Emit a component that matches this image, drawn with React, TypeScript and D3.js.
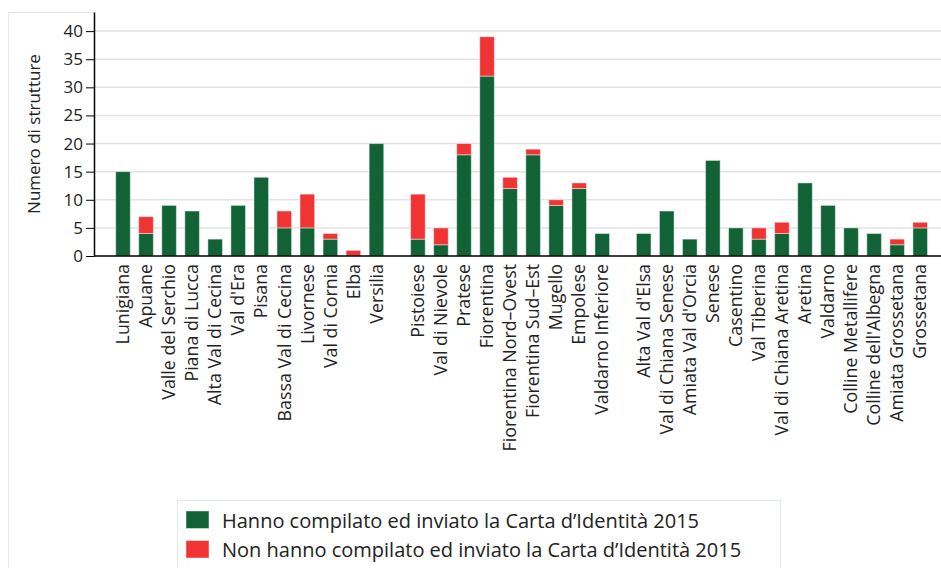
import React, { useEffect, useRef } from "react";
import * as d3 from "d3";

// zone names, grouped as in the original (gap between the three groups)
const group1 = ["Lunigiana", "Apuane", "Valle del Serchio", "Piana di Lucca", "Alta Val di Cecina", "Val d'Era", "Pisana", "Bassa Val di Cecina", "Livornese", "Val di Cornia", "Elba", "Versilia"];
const group2 = ["Pistoiese", "Val di Nievole", "Pratese", "Fiorentina", "Fiorentina Nord–Ovest", "Fiorentina Sud–Est", "Mugello", "Empolese", "Valdarno Inferiore"];
const group3 = ["Alta Val d'Elsa", "Val di Chiana Senese", "Amiata Val d'Orcia", "Senese", "Casentino", "Val Tiberina", "Val di Chiana Aretina", "Aretina", "Valdarno", "Colline Metallifere", "Colline dell'Albegna", "Amiata Grossetana", "Grossetana"];

// compiled / not compiled
const compiled1 = [15, 4, 9, 8, 3, 9, 14, 5, 5, 3, 0, 20];
const missing1 = [0, 3, 0, 0, 0, 0, 0, 3, 6, 1, 1, 0];
const compiled2 = [3, 2, 18, 32, 12, 18, 9, 12, 4];
const missing2 = [8, 3, 2, 7, 2, 1, 1, 1, 0];
const compiled3 = [4, 8, 3, 17, 5, 3, 4, 13, 9, 5, 4, 2, 5];
const missing3 = [0, 0, 0, 0, 0, 2, 2, 0, 0, 0, 0, 1, 1];

const yTicks = [0, 5, 10, 15, 20, 25, 30, 35, 40];
const seriesNames = ["Hanno compilato ed inviato la Carta d’Identità 2015", "Non hanno compilato ed inviato la Carta d’Identità 2015"];
const colors = ["#116336", "#f03333"];

const FONT = "'Open Sans', sans-serif";

const App = () => {
  const ref = useRef<SVGSVGElement | null>(null);

  useEffect(() => {
    const W = 941, H = 568;
    const svg = d3.select(ref.current);
    svg.selectAll("*").remove();

    // build rows with a slot index (groups separated by an extra 0.8 slot)
    const groups = [
      { names: group1, comp: compiled1, miss: missing1 },
      { names: group2, comp: compiled2, miss: missing2 },
      { names: group3, comp: compiled3, miss: missing3 },
    ];
    const rows: { name: string; comp: number; miss: number; slot: number }[] = [];
    let i = 0;
    groups.forEach((g, gi) => {
      g.names.forEach((n, k) => {
        rows.push({ name: n, comp: g.comp[k], miss: g.miss[k], slot: i + gi * 0.8 });
        i++;
      });
    });
    const lastSlot = rows[rows.length - 1].slot;

    const x = d3.scaleLinear().domain([0, lastSlot]).range([123, 920.2]);
    const y = d3.scaleLinear().domain([0, 43.4]).range([256, 12]);
    const barW = 14.6;
    const axisX = 94;

    // frame
    svg.append("path")
      .attr("d", `M8.5,${H} L8.5,12.5 L${axisX},12.5`)
      .attr("fill", "none")
      .attr("stroke", "#dde9ec")
      .attr("stroke-width", 1);

    // grid
    svg.append("g").selectAll("line")
      .data(yTicks.filter(t => t > 0))
      .enter().append("line")
      .attr("x1", axisX).attr("x2", W)
      .attr("y1", d => y(d)).attr("y2", d => y(d))
      .attr("stroke", "#e3e3e3")
      .attr("stroke-width", 1.5);

    // bars
    const bars = svg.append("g");
    bars.selectAll("rect.comp")
      .data(rows.filter(r => r.comp > 0))
      .enter().append("rect")
      .attr("x", d => x(d.slot) - barW / 2)
      .attr("width", barW)
      .attr("y", d => y(d.comp))
      .attr("height", d => y(0) - y(d.comp))
      .attr("fill", colors[0])
      .attr("stroke", "rgba(255,255,255,0.45)")
      .attr("stroke-width", 1);
    bars.selectAll("rect.miss")
      .data(rows.filter(r => r.miss > 0))
      .enter().append("rect")
      .attr("x", d => x(d.slot) - barW / 2)
      .attr("width", barW)
      .attr("y", d => y(d.comp + d.miss))
      .attr("height", d => y(d.comp) - y(d.comp + d.miss))
      .attr("fill", colors[1])
      .attr("stroke", "rgba(255,255,255,0.45)")
      .attr("stroke-width", 1);

    // y axis
    const yAxis = svg.append("g")
      .attr("transform", `translate(${axisX},0)`)
      .call(d3.axisLeft(y).tickValues(yTicks).tickSize(8).tickSizeOuter(0).tickPadding(3));
    yAxis.select(".domain").attr("stroke", "#000").attr("stroke-width", 1.5);
    yAxis.selectAll(".tick line").attr("stroke", "#000").attr("stroke-width", 1);
    yAxis.selectAll("text").attr("font-family", FONT).attr("font-size", 17).attr("fill", "#222");

    svg.append("text")
      .attr("transform", `translate(40,${(12 + 256) / 2}) rotate(-90)`)
      .attr("text-anchor", "middle")
      .attr("font-family", FONT)
      .attr("font-size", 17)
      .attr("fill", "#222")
      .text("Numero di strutture");

    // x axis line
    svg.append("line")
      .attr("x1", axisX).attr("x2", W)
      .attr("y1", y(0)).attr("y2", y(0))
      .attr("stroke", "#000").attr("stroke-width", 1.5);

    // x labels
    svg.append("g").selectAll("text")
      .data(rows)
      .enter().append("text")
      .attr("transform", d => `translate(${x(d.slot)},264) rotate(-90)`)
      .attr("text-anchor", "end")
      .attr("dy", "0.35em")
      .attr("font-family", FONT)
      .attr("font-size", 17.8)
      .attr("fill", "#222")
      .text(d => d.name);

    // legend
    const lg = svg.append("g");
    lg.append("rect")
      .attr("x", 177.5).attr("y", 500.5)
      .attr("width", 603).attr("height", 90)
      .attr("fill", "#fff")
      .attr("stroke", "#dde9ec");
    seriesNames.forEach((s, k) => {
      lg.append("rect")
        .attr("x", 186).attr("y", 511 + k * 29.5)
        .attr("width", 23).attr("height", 17.5)
        .attr("fill", colors[k])
        .attr("stroke", "rgba(255,255,255,0.45)");
      lg.append("text")
        .attr("x", 222).attr("y", 527.5 + k * 29.5)
        .attr("font-family", FONT)
        .attr("font-size", 20)
        .attr("fill", "#222")
        .text(s);
    });
  }, []);

  return (
    <svg ref={ref} width={941} height={568} style={{ position: "absolute", left: 0, top: 0, background: "#fff" }} />
  );
};

export default App;
